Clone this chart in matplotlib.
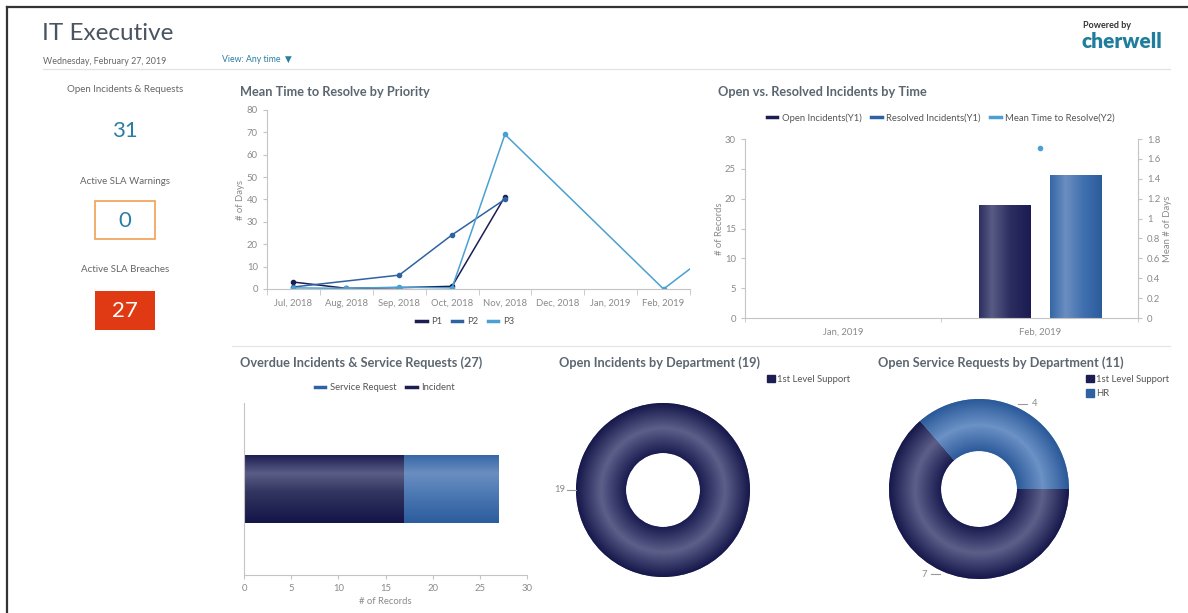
import numpy as np
import matplotlib

matplotlib.use("Agg")
import matplotlib.pyplot as plt
from matplotlib.colors import LinearSegmentedColormap
from matplotlib.patches import Patch, Rectangle
from matplotlib.lines import Line2D

W, H = 1188, 613
nan = np.nan

# ---- data ---------------------------------------------------------------
KPI_LABELS = ["Open Incidents & Requests", "Active SLA Warnings", "Active SLA Breaches"]
KPI_VALUES = [31, 0, 27]

MONTHS = ["Jul, 2018", "Aug, 2018", "Sep, 2018", "Oct, 2018", "Nov, 2018",
          "Dec, 2018", "Jan, 2019", "Feb, 2019", "Mar, 2019"]
N_SHOWN = 8  # Mar, 2019 lies beyond the visible range
P1_DAYS = [3.1, 0.3, 0.6, 1.2, 41.3, nan, nan, nan, nan]
P2_DAYS = [0.9, nan, 6.2, 24.2, 40.1, nan, nan, nan, nan]
P3_DAYS = [0.5, 0.3, 0.8, 0.5, 69.1, nan, nan, 0.0, 18.0]

PERIODS = ["Jan, 2019", "Feb, 2019"]
OPEN_INC = [0, 19]
RESOLVED_INC = [0, 24]
MEAN_RESOLVE = [nan, 1.71]

OVERDUE_TYPES = ["Incident", "Service Request"]
OVERDUE_COUNTS = [17, 10]

INC_DEPTS = ["1st Level Support"]
INC_COUNTS = [19]
SR_DEPTS = ["1st Level Support", "HR"]
SR_COUNTS = [7, 4]

# ---- style --------------------------------------------------------------
NAVY = "#1c1d52"
BLUE = "#2f62a3"
LIGHT = "#4aa0d2"
TITLE_C = "#5b6670"
TICK_C = "#8a8a8a"
AXIS_C = "#c4c4c4"
TEAL = "#2a7ea3"
TICK_FS = 6.8

plt.rcParams["font.family"] = ["Lato", "DejaVu Sans"]
plt.rcParams["axes.linewidth"] = 0.8

# radial stops, inner edge -> outer edge
NAVY_STOPS = [(0, "#1a1b50"), (0.5, "#5c6089"), (1, "#16174b")]
BLUE_STOPS = [(0, "#2c5a9a"), (0.5, "#6c92c6"), (1, "#2a5999")]


def box(x0, y0, x1, y1):
    return [x0 / W, 1 - y1 / H, (x1 - x0) / W, (y1 - y0) / H]


def ftext(fig, x, y, s, **kw):
    return fig.text(x / W, 1 - y / H, s, **kw)


def fill_gradient(ax, patch, stops, vertical=False):
    bb = patch.get_bbox()
    if bb.width == 0 or bb.height == 0:
        return
    cmap = LinearSegmentedColormap.from_list("g", stops)
    g = np.linspace(0, 1, 256)
    img = g[:, None] if vertical else g[None, :]
    im = ax.imshow(img, cmap=cmap, extent=(bb.x0, bb.x1, bb.y0, bb.y1),
                   origin="lower", aspect="auto", zorder=patch.get_zorder() + 0.1,
                   interpolation="bilinear")
    im.set_clip_path(patch)


def style_axis(ax):
    for s in ["top", "right"]:
        ax.spines[s].set_visible(False)
    for s in ["left", "bottom"]:
        ax.spines[s].set_color(AXIS_C)
    ax.tick_params(colors=AXIS_C, labelcolor=TICK_C, labelsize=TICK_FS,
                   length=3, width=0.8)


def donut(ax, values, stops_list, r_in, start):
    wedges, _ = ax.pie(values, radius=1.0, colors=[s[1][1] for s in stops_list],
                       startangle=start, counterclock=True,
                       wedgeprops=dict(width=1.0 - r_in, linewidth=0))
    yy, xx = np.mgrid[-1:1:500j, -1:1:500j]
    t = np.clip((np.hypot(xx, yy) - r_in) / (1.0 - r_in), 0, 1)
    for w, st in zip(wedges, stops_list):
        cmap = LinearSegmentedColormap.from_list("d", st)
        im = ax.imshow(cmap(t), extent=(-1, 1, -1, 1), origin="lower",
                       interpolation="bilinear", zorder=w.get_zorder() + 0.1)
        im.set_clip_path(w)
    ax.set_xlim(-1, 1)
    ax.set_ylim(-1, 1)
    ax.set_aspect("equal")
    ax.axis("off")


def donut_labels(ax, values, start, r0, lead, gap):
    tot = float(sum(values))
    a = start
    for v in values:
        mid = np.deg2rad(a + 180.0 * v / tot)
        a += 360.0 * v / tot
        px, py = r0 * np.cos(mid), r0 * np.sin(mid)
        sgn = 1 if np.cos(mid) > 1e-9 else -1
        ax.plot([px, px + sgn * lead], [py, py], color="#999999", lw=0.8, clip_on=False)
        ax.text(px + sgn * (lead + gap), py, str(v), fontsize=TICK_FS, color=TICK_C,
                ha="left" if sgn > 0 else "right", va="center", clip_on=False)


fig = plt.figure(figsize=(W / 100, H / 100), dpi=100)
fig.patch.set_facecolor("white")

# frame + separators
fig.add_artist(Line2D([7 / W, 1], [1 - 7 / H] * 2, color="#333333", lw=1.6))
fig.add_artist(Line2D([7 / W] * 2, [0, 1 - 7 / H], color="#333333", lw=1.6))
fig.add_artist(Line2D([43 / W, 1170 / W], [1 - 69 / H] * 2, color="#e2e2e2", lw=0.9))
fig.add_artist(Line2D([232 / W, 1170 / W], [1 - 346 / H] * 2, color="#e6e6e6", lw=0.9))

# header
ftext(fig, 42, 34, "IT Executive", fontsize=17.5, color="#4a5560", va="center")
ftext(fig, 43, 61, "Wednesday, February 27, 2019", fontsize=6.4, color="#666666", va="center")
ftext(fig, 222, 59, "View: Any time  \u25BC", fontsize=6.3, color=TEAL, va="center")
ftext(fig, 1083, 26, "Powered by", fontsize=6.5, color="#333333", va="center",
      fontweight="bold")
ftext(fig, 1081, 41, "cherwell", fontsize=15, color="#1f7e9c", va="center",
      fontweight="heavy")

# KPIs
KPI_FS = 16
ftext(fig, 125, 90, KPI_LABELS[0], fontsize=7, color="#666666", ha="center", va="center")
ftext(fig, 125, 131, str(KPI_VALUES[0]), fontsize=KPI_FS, color=TEAL, ha="center", va="center")
ftext(fig, 125, 181, KPI_LABELS[1], fontsize=7, color="#666666", ha="center", va="center")
fig.add_artist(Rectangle((95 / W, 1 - 239 / H), 60 / W, 38 / H, transform=fig.transFigure,
                         facecolor="white", edgecolor="#f0a050", lw=1.2))
ftext(fig, 125, 221, str(KPI_VALUES[1]), fontsize=KPI_FS, color=TEAL, ha="center", va="center")
ftext(fig, 125, 270, KPI_LABELS[2], fontsize=7, color="#666666", ha="center", va="center")
fig.add_artist(Rectangle((95 / W, 1 - 330 / H), 60 / W, 39 / H, transform=fig.transFigure,
                         facecolor="#e03a14", edgecolor="none"))
ftext(fig, 125, 311, str(KPI_VALUES[2]), fontsize=KPI_FS, color="white", ha="center", va="center")

# ---- Mean time to resolve by priority ------------------------------------
ftext(fig, 240, 92, "Mean Time to Resolve by Priority", fontsize=9.2, fontweight="bold",
      color=TITLE_C, va="center")
ax1 = fig.add_axes(box(267, 110, 690, 289))
style_axis(ax1)
x = np.arange(len(MONTHS))
for vals, col, lab in [(P1_DAYS, NAVY, "P1"), (P2_DAYS, BLUE, "P2"), (P3_DAYS, LIGHT, "P3")]:
    v = np.asarray(vals, dtype=float)
    m = ~np.isnan(v)
    ax1.plot(x[m], v[m], color=col, lw=1.1, marker="o", ms=3, label=lab)
ax1.set_xlim(-0.5, N_SHOWN - 0.5)
ax1.set_ylim(0, 80)
ax1.set_yticks(np.arange(0, 81, 10))
ax1.set_xticks(np.arange(N_SHOWN))
ax1.set_xticklabels(MONTHS[:N_SHOWN])
ax1.set_xticks(np.arange(N_SHOWN + 1) - 0.5, minor=True)
ax1.tick_params(axis="x", which="major", length=0, pad=7)
ax1.tick_params(axis="x", which="minor", length=4, color=AXIS_C)
ax1.set_ylabel("# of Days", fontsize=6.8, color=TICK_C, labelpad=1)
ax1.legend(loc="center", bbox_to_anchor=(465 / W, 1 - 322 / H), bbox_transform=fig.transFigure,
           ncol=3, frameon=False, fontsize=6.8, labelcolor="#555555", handlelength=1.1,
           columnspacing=1.0, handletextpad=0.5,
           handles=[Line2D([], [], color=c, lw=2.5) for c in [NAVY, BLUE, LIGHT]],
           labels=["P1", "P2", "P3"])

# ---- Open vs resolved incidents ------------------------------------------
ftext(fig, 718, 92, "Open vs. Resolved Incidents by Time", fontsize=9.2, fontweight="bold",
      color=TITLE_C, va="center")
ax2 = fig.add_axes(box(745, 139, 1138, 318))
style_axis(ax2)
xp = np.arange(len(PERIODS))
b_open = ax2.bar(xp - 0.18, OPEN_INC, width=0.26, color=NAVY, zorder=2)
b_res = ax2.bar(xp + 0.18, RESOLVED_INC, width=0.26, color=BLUE, zorder=2)
for p in b_open:
    fill_gradient(ax2, p, [(0, "#2c2e60"), (0.25, "#585b84"), (0.6, "#2c2e60"), (1, "#1a1b52")])
for p in b_res:
    fill_gradient(ax2, p, [(0, "#3466a6"), (0.3, "#6b8ec0"), (0.65, "#3f6fae"), (1, "#2b5c9c")])
ax2.set_xlim(-0.5, len(PERIODS) - 0.5)
ax2.set_ylim(0, 30)
ax2.set_yticks(np.arange(0, 31, 5))
ax2.set_xticks(xp)
ax2.set_xticklabels(PERIODS)
ax2.set_xticks(np.arange(len(PERIODS) + 1) - 0.5, minor=True)
ax2.tick_params(axis="x", which="major", length=0, pad=7)
ax2.tick_params(axis="x", which="minor", length=3, color=AXIS_C)
ax2.set_ylabel("# of Records", fontsize=6.8, color=TICK_C, labelpad=1)
ax2b = ax2.twinx()
for s in ["top", "left", "bottom"]:
    ax2b.spines[s].set_visible(False)
ax2b.spines["right"].set_color(AXIS_C)
ax2b.plot(xp, MEAN_RESOLVE, color=LIGHT, marker="o", ms=3, lw=1.1)
ax2b.set_ylim(0, 1.8)
yt = np.round(np.arange(0, 1.81, 0.2), 1)
ax2b.set_yticks(yt)
ax2b.set_yticklabels([f"{t:g}" for t in yt])
ax2b.tick_params(colors=AXIS_C, labelcolor=TICK_C, labelsize=TICK_FS, length=3, width=0.8)
ax2b.set_ylabel("Mean # of Days", fontsize=6.8, color=TICK_C, labelpad=2)
ax2.legend(loc="center", bbox_to_anchor=(941 / W, 1 - 118 / H), bbox_transform=fig.transFigure,
           ncol=3, frameon=False, fontsize=6.8, labelcolor="#555555", handlelength=1.1,
           columnspacing=1.0, handletextpad=0.5,
           handles=[Line2D([], [], color=c, lw=2.5) for c in [NAVY, BLUE, LIGHT]],
           labels=["Open Incidents(Y1)", "Resolved Incidents(Y1)", "Mean Time to Resolve(Y2)"])

# ---- Overdue incidents & service requests --------------------------------
ftext(fig, 240, 363, "Overdue Incidents & Service Requests (27)", fontsize=9.2,
      fontweight="bold", color=TITLE_C, va="center")
ax3 = fig.add_axes(box(244, 403, 527, 575))
style_axis(ax3)
left = 0
hbars = []
for cnt, col in zip(OVERDUE_COUNTS, [NAVY, BLUE]):
    hbars += list(ax3.barh([0], [cnt], left=left, height=0.4, color=col, zorder=2))
    left += cnt
fill_gradient(ax3, hbars[0], [(0, "#141548"), (0.45, "#32355f"), (0.72, "#5a5d85"), (1, "#1a1b50")],
              vertical=True)
fill_gradient(ax3, hbars[1], [(0, "#2b5c9c"), (0.45, "#4f7bb5"), (0.72, "#6b8ec0"), (1, "#3566a6")],
              vertical=True)
ax3.set_xlim(0, 30)
ax3.set_ylim(-0.5, 0.5)
ax3.set_xticks(np.arange(0, 31, 5))
ax3.set_yticks([])
ax3.set_xlabel("# of Records", fontsize=6.8, color=TICK_C, labelpad=3)
ax3.legend(loc="center", bbox_to_anchor=(385 / W, 1 - 388 / H), bbox_transform=fig.transFigure,
           ncol=2, frameon=False, fontsize=6.8, labelcolor="#555555", handlelength=1.1,
           columnspacing=1.0, handletextpad=0.5,
           handles=[Line2D([], [], color=c, lw=2.5) for c in [BLUE, NAVY]],
           labels=[OVERDUE_TYPES[1], OVERDUE_TYPES[0]])

# ---- Donuts --------------------------------------------------------------
ftext(fig, 559, 363, "Open Incidents by Department (19)", fontsize=9.2,
      fontweight="bold", color=TITLE_C, va="center")
ax4 = fig.add_axes(box(576, 403, 750, 577))
donut(ax4, INC_COUNTS, [NAVY_STOPS], 37 / 87, 0)
donut_labels(ax4, INC_COUNTS, 0, 1.0, 0.1, 0.02)
ax4.legend(handles=[Patch(color=NAVY)], labels=INC_DEPTS, loc="upper left",
           bbox_to_anchor=(767 / W, 1 - 375 / H), bbox_transform=fig.transFigure,
           frameon=False, fontsize=6.8, labelcolor="#555555", handlelength=0.8,
           handleheight=0.8, handletextpad=0.3, borderaxespad=0, borderpad=0)

ftext(fig, 878, 363, "Open Service Requests by Department (11)", fontsize=9.2,
      fontweight="bold", color=TITLE_C, va="center")
ax5 = fig.add_axes(box(889, 399, 1069, 579))
sr_start = 360.0 * SR_COUNTS[1] / sum(SR_COUNTS)
donut(ax5, SR_COUNTS, [NAVY_STOPS, BLUE_STOPS], 38 / 90, sr_start)
donut_labels(ax5, SR_COUNTS, sr_start, 1.04, 0.1, 0.05)
ax5.legend(handles=[Patch(color=NAVY), Patch(color=BLUE)], labels=SR_DEPTS, loc="upper left",
           bbox_to_anchor=(1086 / W, 1 - 375 / H), bbox_transform=fig.transFigure,
           frameon=False, fontsize=6.8, labelcolor="#555555", handlelength=0.8,
           handleheight=0.8, handletextpad=0.3, borderaxespad=0, borderpad=0,
           labelspacing=0.55)

fig.savefig("out.png", dpi=100)
